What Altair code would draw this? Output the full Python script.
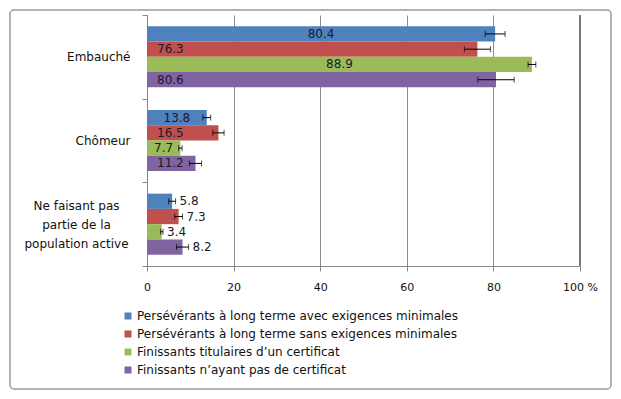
import altair as alt
import pandas as pd

categories = ["Embauché", "Chômeur", "Ne faisant pas partie de la population active"]
series = [
    "Persévérants à long terme avec exigences minimales",
    "Persévérants à long terme sans exigences minimales",
    "Finissants titulaires d’un certificat",
    "Finissants n’ayant pas de certificat",
]
colors = ["#4F81BD", "#C0504D", "#9BBB59", "#8064A2"]

values_s1 = [80.4, 13.8, 5.8]
values_s2 = [76.3, 16.5, 7.3]
values_s3 = [88.9, 7.7, 3.4]
values_s4 = [80.6, 11.2, 8.2]

errors_s1 = [2.3, 0.9, 0.8]
errors_s2 = [3.0, 1.3, 0.9]
errors_s3 = [0.9, 0.4, 0.3]
errors_s4 = [4.2, 1.4, 1.4]

x_ticks = [0, 20, 40, 60, 80, 100]

all_values = [values_s1, values_s2, values_s3, values_s4]
all_errors = [errors_s1, errors_s2, errors_s3, errors_s4]

rows = []
for si, s in enumerate(series):
    for ci, c in enumerate(categories):
        v = all_values[si][ci]
        e = all_errors[si][ci]
        if ci == 2:
            pos = "outside"
        elif si in (0, 2):
            pos = "center"
        else:
            pos = "base"
        rows.append({
            "cat": c, "series": s, "value": v,
            "lo": v - e, "hi": v + e, "mid": v / 2, "pos": pos,
        })
df = pd.DataFrame(rows)

multi = categories[2]
label_expr = (
    f"datum.label == '{multi}' ? ['Ne faisant pas', 'partie de la', 'population active'] : datum.label"
)
is_multi = f"datum.value == '{multi}'"

y_enc = alt.Y(
    "cat:N", sort=categories,
    scale=alt.Scale(paddingInner=0, paddingOuter=0),
    axis=alt.Axis(
        title=None, grid=False, tickBand="extent", tickSize=5,
        tickColor="#868686", domainColor="#868686",
        labelExpr=label_expr, labelFontSize=12, labelColor="#111",
        labelLineHeight=19,
        labelAlign={"condition": {"test": is_multi, "value": "center"}, "value": "right"},
        labelPadding={"condition": {"test": is_multi, "value": 66}, "value": 12},
        labelOffset={"condition": {"test": is_multi, "value": -19}, "value": 0},
        labelBaseline="middle",
    ),
)
yoff_enc = alt.YOffset(
    "series:N", sort=series,
    scale=alt.Scale(paddingInner=0, paddingOuter=0.74),
)

x_scale = alt.Scale(domain=[0, 100], nice=False)
x_axis = alt.Axis(
    title=None, values=x_ticks, grid=True, gridColor="#8c8c8c", gridWidth=1,
    tickSize=5, tickColor="#868686", domainColor="#868686",
    labelFontSize=11, labelColor="#111", labelPadding=10, labelFlush=False,
    labelExpr="datum.value == 100 ? '100 %' : datum.label",
)

base = alt.Chart(df).encode(y=y_enc, yOffset=yoff_enc)

bars = base.mark_bar().encode(
    x=alt.X("value:Q", scale=x_scale, axis=x_axis),
    color=alt.Color(
        "series:N", sort=series,
        scale=alt.Scale(domain=series, range=colors),
        legend=alt.Legend(
            title=None, orient="none", legendX=-25, legendY=295,
            direction="vertical", symbolType="square", symbolSize=49,
            symbolStrokeWidth=0, labelFontSize=12, labelColor="#111",
            labelLimit=500, rowPadding=6, labelOffset=3,
        ),
    ),
)

edge = alt.Chart(pd.DataFrame({"edge": [x_ticks[-1]]})).mark_rule(
    color="#7a7a7a", strokeWidth=2
).encode(x=alt.X("edge:Q"), y=alt.value(0), y2=alt.value(251))

err = base.mark_rule(color="black", strokeWidth=1).encode(x="lo:Q", x2="hi:Q")
cap_lo = base.mark_tick(color="black", size=6, thickness=1, orient="vertical").encode(x="lo:Q")
cap_hi = base.mark_tick(color="black", size=6, thickness=1, orient="vertical").encode(x="hi:Q")

txt_style = dict(baseline="middle", fontSize=12, color="#1a1a2a")
t_center = base.transform_filter("datum.pos == 'center'").mark_text(align="center", **txt_style).encode(
    x="mid:Q", text=alt.Text("value:Q", format=".1f"))
t_base = base.transform_filter("datum.pos == 'base'").mark_text(align="left", dx=10, **txt_style).encode(
    x=alt.datum(0), text=alt.Text("value:Q", format=".1f"))
t_out = base.transform_filter("datum.pos == 'outside'").mark_text(align="left", dx=4, **txt_style).encode(
    x="hi:Q", text=alt.Text("value:Q", format=".1f"))

frame = alt.Chart(alt.Data(values=[{"a": 1}])).mark_rect(
    fill="transparent", stroke="#9a9a9a", strokeWidth=1.5, cornerRadius=4
).encode(x=alt.value(-137), x2=alt.value(464), y=alt.value(-5), y2=alt.value(374))

chart = alt.layer(bars, edge, err, cap_lo, cap_hi, t_center, t_base, t_out, frame).properties(
    width=433, height=251,
    autosize=alt.AutoSizeParams(type="none"),
    padding={"left": 139, "top": 7, "right": 33, "bottom": 125},
).configure(font="DejaVu Sans").configure_view(stroke="transparent")

chart.save("out.html", embed_options={"renderer": "svg", "actions": False})
